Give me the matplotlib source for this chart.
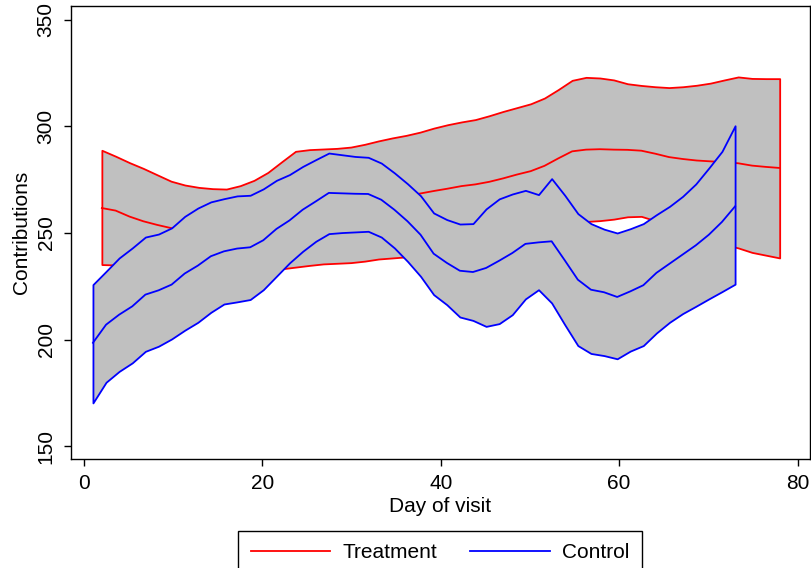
import matplotlib
matplotlib.use('Agg')
import matplotlib.pyplot as plt

plt.rcParams['font.family'] = ['Liberation Sans', 'DejaVu Sans']

# treatment group: smoothed mean and confidence band
treat_day = [2, 3.55, 5.10, 6.65, 8.20, 9.76, 11.31, 12.86, 14.41, 15.96,
             17.51, 19.06, 20.61, 22.16, 23.71, 25.27, 26.82, 28.37, 29.92, 31.47,
             33.02, 34.57, 36.12, 37.67, 39.22, 40.78, 42.33, 43.88, 45.43, 46.98,
             48.53, 50.08, 51.63, 53.18, 54.73, 56.29, 57.84, 59.39, 60.94, 62.49,
             64.04, 65.59, 67.14, 68.69, 70.24, 71.80, 73.35, 74.90, 76.45, 78.0]
treat_hi = [288.8, 286.0, 283.0, 280.3, 277.3, 274.3, 272.5, 271.4, 270.8, 270.6,
            272.2, 274.7, 278.4, 283.4, 288.3, 289.1, 289.4, 289.7, 290.3, 291.6,
            293.2, 294.6, 295.8, 297.3, 299.2, 300.8, 302.1, 303.2, 305.0, 307.0,
            308.8, 310.6, 313.3, 317.3, 321.6, 323.0, 322.7, 321.8, 320.0, 319.2,
            318.6, 318.2, 318.6, 319.3, 320.3, 321.8, 323.2, 322.5, 322.4, 322.4]
treat_mean = [261.7, 260.5, 257.7, 255.5, 253.8, 252.3, 251.6, 251.0, 250.8, 251.2,
              252.3, 253.7, 255.8, 258.3, 260.8, 262.0, 262.6, 263.0, 263.3, 264.2,
              265.5, 266.5, 267.4, 268.5, 269.7, 270.8, 272.0, 272.8, 274.0, 275.6,
              277.4, 279.0, 281.5, 285.0, 288.3, 289.1, 289.3, 289.1, 289.0, 288.6,
              287.2, 285.6, 284.7, 284.0, 283.6, 283.2, 282.7, 281.6, 281.0, 280.5]
treat_lo = [235.2, 235.0, 232.4, 230.7, 230.3, 230.3, 230.7, 230.6, 230.8, 231.8,
            232.4, 232.7, 233.2, 233.2, 234.0, 234.8, 235.5, 235.8, 236.1, 236.8,
            237.8, 238.3, 238.8, 239.5, 240.3, 240.8, 241.9, 242.4, 243.0, 244.2,
            246.0, 247.4, 249.7, 252.7, 255.0, 255.4, 255.8, 256.5, 257.6, 257.8,
            255.8, 253.0, 250.8, 248.7, 246.9, 244.6, 243.0, 240.9, 239.6, 238.3]

# control group
ctrl_day = [1, 2.47, 3.94, 5.41, 6.88, 8.35, 9.82, 11.29, 12.76, 14.22,
            15.69, 17.16, 18.63, 20.10, 21.57, 23.04, 24.51, 25.98, 27.45, 28.92,
            30.39, 31.86, 33.33, 34.80, 36.27, 37.73, 39.20, 40.67, 42.14, 43.61,
            45.08, 46.55, 48.02, 49.49, 50.96, 52.43, 53.90, 55.37, 56.84, 58.31,
            59.78, 61.24, 62.71, 64.18, 65.65, 67.12, 68.59, 70.06, 71.53, 73.0]
ctrl_hi = [225.8, 232.0, 238.3, 243.0, 248.1, 249.5, 252.4, 257.8, 261.7, 264.6,
           266.1, 267.4, 267.7, 270.7, 274.7, 277.4, 281.2, 284.4, 287.5, 286.7,
           285.9, 285.5, 282.8, 278.2, 273.1, 267.5, 259.4, 256.3, 254.2, 254.4,
           261.3, 266.0, 268.3, 270.0, 268.0, 275.5, 267.7, 259.1, 254.4, 251.8,
           250.0, 252.0, 254.4, 258.6, 262.5, 267.2, 273.0, 280.5, 288.3, 300.3]
ctrl_mean = [198.5, 207.0, 211.7, 215.6, 221.1, 223.1, 225.8, 231.0, 234.7, 239.1,
             241.4, 242.7, 243.3, 246.6, 251.9, 255.9, 260.9, 264.8, 268.8, 268.6,
             268.4, 268.3, 265.6, 260.9, 255.5, 249.2, 240.3, 236.0, 232.3, 231.7,
             233.6, 237.0, 240.6, 244.9, 245.6, 246.1, 237.2, 228.1, 223.4, 222.2,
             220.0, 222.6, 225.5, 231.3, 235.6, 239.9, 244.2, 249.2, 255.2, 262.5]
ctrl_lo = [170.3, 180.0, 185.1, 189.1, 194.5, 196.9, 200.3, 204.4, 208.1, 212.8,
           216.7, 217.7, 218.8, 223.4, 229.7, 236.0, 241.4, 246.1, 249.7, 250.2,
           250.5, 250.8, 248.1, 243.0, 236.7, 229.7, 221.1, 216.4, 210.6, 209.0,
           206.2, 207.5, 211.7, 219.1, 223.4, 217.2, 207.0, 197.2, 193.5, 192.5,
           191.0, 194.6, 197.2, 203.1, 208.1, 212.2, 215.6, 219.1, 222.5, 226.0]

fig = plt.figure(figsize=(8.12, 5.68), dpi=100)
ax = fig.add_axes([71/812, 1 - 459/568, (810 - 71)/812, (459 - 5.5)/568])

band = '#c0c0c0'
lw = 1.3

# draw in order: treatment band, treatment mean, then control on top
ax.fill_between(treat_day, treat_lo, treat_hi, facecolor=band, edgecolor='red',
                linewidth=lw, zorder=1)
l1, = ax.plot(treat_day, treat_mean, color='red', linewidth=lw, label='Treatment', zorder=1.1)
ax.fill_between(ctrl_day, ctrl_lo, ctrl_hi, facecolor=band, edgecolor='blue',
                linewidth=lw, zorder=1.2)
l2, = ax.plot(ctrl_day, ctrl_mean, color='blue', linewidth=lw, label='Control', zorder=1.3)

ax.set_xlim(-1.46, 81.4)
ax.set_ylim(144.0, 356.7)
ax.set_xticks([0, 20, 40, 60, 80])
ax.set_yticks([150, 200, 250, 300, 350])
ax.tick_params(direction='out', length=5, width=1, labelsize=15, pad=6)
for lab in ax.get_yticklabels():
    lab.set_rotation(90)
    lab.set_va('center')
for s in ax.spines.values():
    s.set_linewidth(1)

ax.set_xlabel('Day of visit', fontsize=15, labelpad=3)
ax.set_ylabel('Contributions', fontsize=15, labelpad=4)

leg = fig.legend(handles=[l1, l2], loc='upper center', ncol=2,
                 bbox_to_anchor=(440/812, 1 - 530.5/568), bbox_transform=fig.transFigure,
                 borderaxespad=0, fontsize=15, handlelength=3.8, handletextpad=0.6,
                 columnspacing=1.6, fancybox=False, edgecolor='black', framealpha=1,
                 borderpad=0.6)
leg.get_frame().set_linewidth(1)

plt.savefig('out.png', dpi=100)
